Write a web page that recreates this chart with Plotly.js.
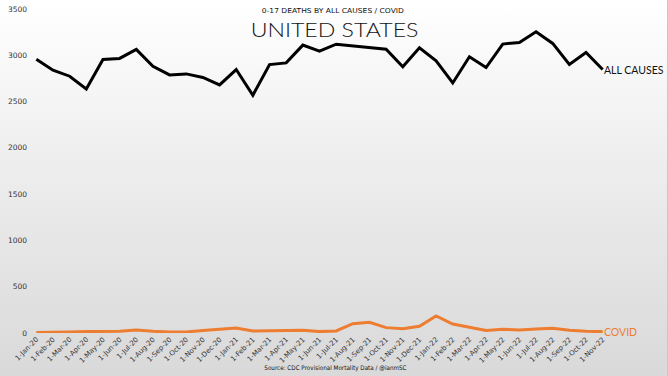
<!DOCTYPE html>
<html>
<head>
<meta charset="utf-8">
<script src="https://cdn.plot.ly/plotly-3.0.1.min.js"></script>
<style>
html,body{margin:0;padding:0;}
#wrap{width:668px;height:376px;background:linear-gradient(to bottom,#ffffff 0%,#f1f1f1 35%,#d9d9d9 100%);box-sizing:border-box;border-right:1px solid #c8c8c8;}
#chart{width:668px;height:376px;}
</style>
</head>
<body>
<div id="wrap"><div id="chart"></div></div>
<script>
var months = ["1-Jan-20","1-Feb-20","1-Mar-20","1-Apr-20","1-May-20","1-Jun-20","1-Jul-20","1-Aug-20","1-Sep-20","1-Oct-20","1-Nov-20","1-Dec-20",
  "1-Jan-21","1-Feb-21","1-Mar-21","1-Apr-21","1-May-21","1-Jun-21","1-Jul-21","1-Aug-21","1-Sep-21","1-Oct-21","1-Nov-21","1-Dec-21",
  "1-Jan-22","1-Feb-22","1-Mar-22","1-Apr-22","1-May-22","1-Jun-22","1-Jul-22","1-Aug-22","1-Sep-22","1-Oct-22","1-Nov-22"];
var allCauses = [2958,2839,2774,2636,2955,2966,3063,2882,2788,2799,2760,2680,
  2846,2568,2900,2918,3110,3045,3120,3100,3088,3066,2875,3081,
  2940,2701,2984,2868,3121,3139,3254,3128,2900,3030,2846];
var covid = [5,5,10,15,18,18,33,18,12,12,26,37,
  55,22,26,30,30,15,22,100,115,58,47,72,
  184,97,65,26,40,33,44,51,30,18,15];
var yTicks = [0,500,1000,1500,2000,2500,3000,3500];

var FONT = "'DejaVu Sans', sans-serif";
var LFONT = "Lato, 'Open Sans', sans-serif";
var n = months.length;

var traces = [
  {x: months, y: allCauses, type: "scatter", mode: "lines", name: "ALL CAUSES",
   line: {color: "#000000", width: 3}, hoverinfo: "skip"},
  {x: months, y: covid, type: "scatter", mode: "lines", name: "COVID",
   line: {color: "#ED7D31", width: 3}, hoverinfo: "skip"}
];

var layout = {
  width: 668, height: 376,
  paper_bgcolor: "rgba(0,0,0,0)", plot_bgcolor: "rgba(0,0,0,0)",
  margin: {l: 28, r: 57, t: 9, b: 43},
  showlegend: false,
  font: {family: FONT, color: "#333333"},
  xaxis: {
    type: "category", categoryorder: "array", categoryarray: months,
    range: [-0.5, n - 0.5], showgrid: false, zeroline: false, showline: false,
    ticks: "", tickangle: -45, tickfont: {size: 7, color: "#333333", family: FONT},
    automargin: false
  },
  yaxis: {
    range: [0, 3500], tickvals: yTicks, ticktext: yTicks.map(String),
    showgrid: false, zeroline: false, showline: false, ticks: "",
    tickfont: {size: 7.5, color: "#333333", family: FONT}, automargin: false
  },
  annotations: [
    {xref: "paper", yref: "paper", x: 0.524, y: 1.0, xanchor: "center", yanchor: "middle", yshift: -1.5,
     text: "0-17 DEATHS BY ALL CAUSES / COVID", showarrow: false,
     font: {size: 6.8, color: "#111111", family: FONT}},
    {xref: "paper", yref: "paper", x: 0.525, y: 1.0, xanchor: "center", yanchor: "middle", yshift: -20,
     text: "UNITED STATES", showarrow: false,
     font: {size: 20, color: "#111111", family: LFONT, weight: 300}},
    {xref: "x", yref: "y", x: months[n-1], y: allCauses[n-1], xanchor: "left", yanchor: "middle",
     text: "ALL CAUSES", showarrow: false, xshift: -1,
     font: {size: 10.5, color: "#111111", family: LFONT}},
    {xref: "x", yref: "y", x: months[n-1], y: covid[n-1], xanchor: "left", yanchor: "middle",
     text: "COVID", showarrow: false, xshift: -1,
     font: {size: 10.5, color: "#ED7D31", family: LFONT}},
    {xref: "paper", yref: "paper", x: 0.527, y: 0, xanchor: "center", yanchor: "middle", yshift: -35,
     text: "Source: CDC Provisional Mortality Data / @ianmSC", showarrow: false,
     font: {size: 6.3, color: "#111111", family: FONT}}
  ]
};

// target rendered widths of the centred texts (to mimic the reference's wide typeface)
var stretchTargets = {0: 142, 1: 168, 4: 143};

Plotly.newPlot("chart", traces, layout, {staticPlot: true, displayModeBar: false}).then(function (gd) {
  Object.keys(stretchTargets).forEach(function (k) {
    var t = gd.querySelector('.annotation[data-index="' + k + '"] text.annotation-text');
    if (!t) return;
    var w = t.getBBox().width;
    if (!w) return;
    var s = stretchTargets[k] / w;
    t.style.transformBox = "fill-box";
    t.style.transformOrigin = "center";
    t.style.transform = "scaleX(" + s.toFixed(3) + ")";
  });
});
</script>
</body>
</html>
